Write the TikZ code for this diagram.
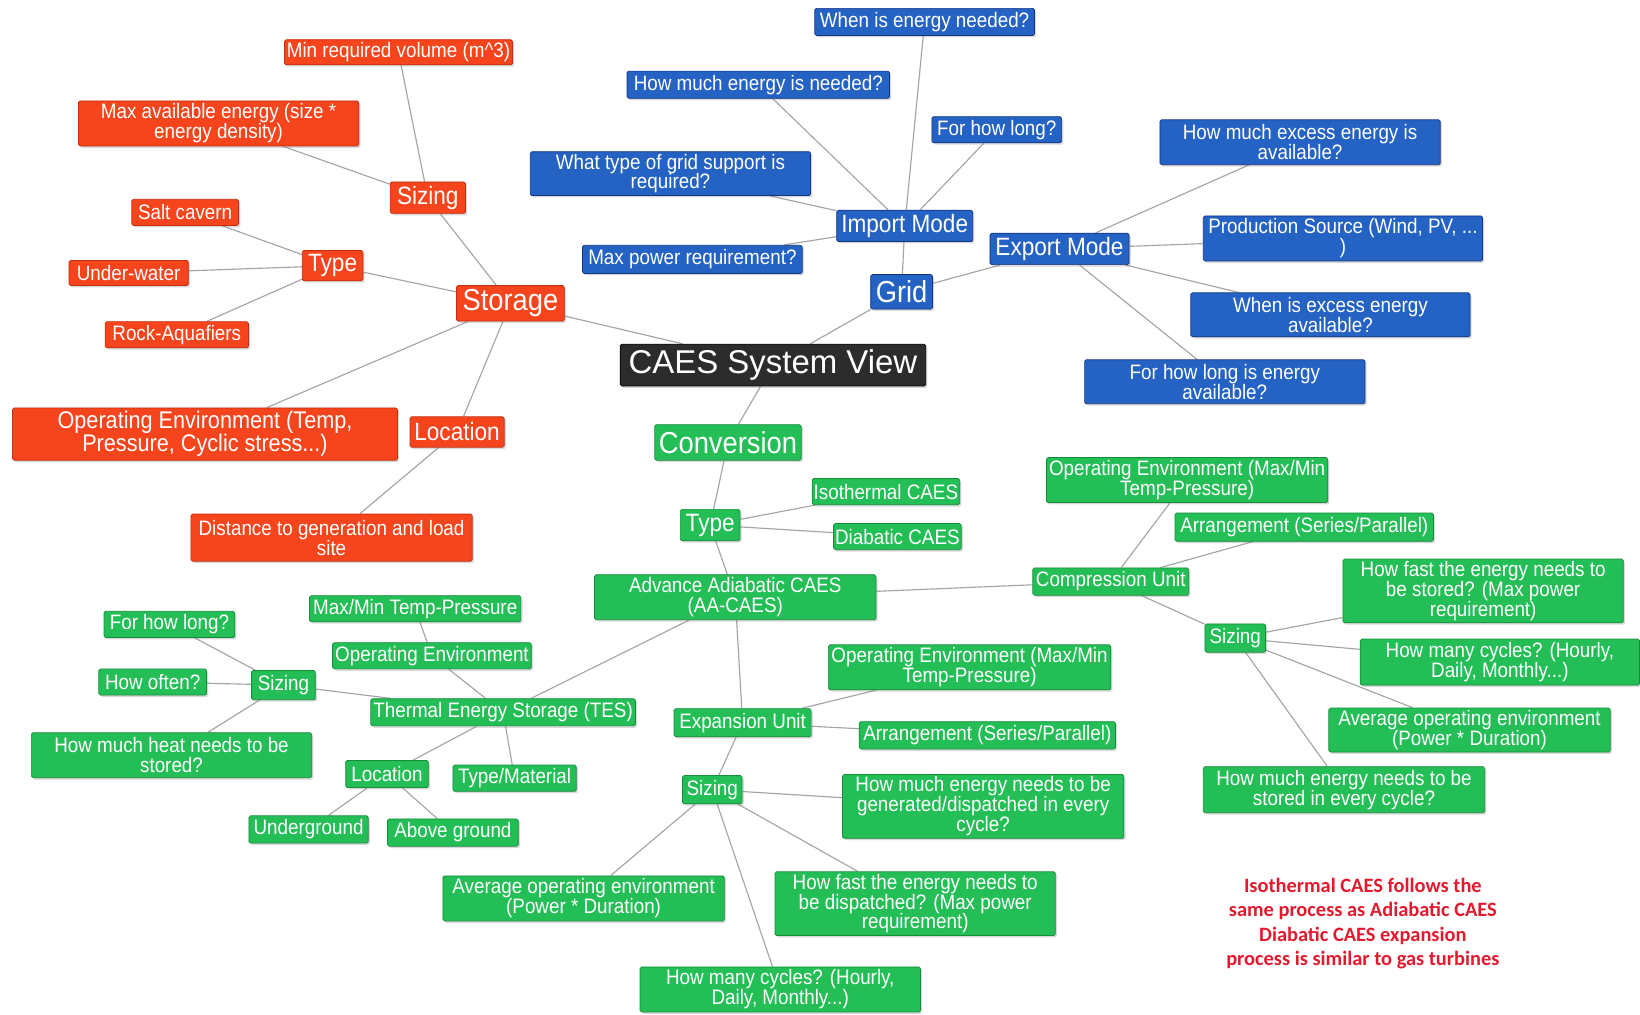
\documentclass[tikz,border=0pt]{standalone}
\usepackage{fontspec}
\setmainfont{Liberation Sans}[FakeStretch=0.9]
\newfontfamily\titlefont{Liberation Sans}
\newfontfamily\notefont{Carlito}
\usetikzlibrary{shadows,backgrounds}

\definecolor{redF}{RGB}{246,68,28}
\definecolor{redD}{RGB}{196,44,14}
\definecolor{bluF}{RGB}{36,98,196}
\definecolor{bluD}{RGB}{22,52,130}
\definecolor{grnF}{RGB}{36,190,86}
\definecolor{grnD}{RGB}{22,140,58}
\definecolor{darkF}{RGB}{44,44,44}
\definecolor{edgeC}{RGB}{165,165,165}
\definecolor{noteC}{RGB}{226,26,46}

\begin{document}
\begin{tikzpicture}[x=1pt,y=-1pt,
  card/.style={rectangle, rounded corners=1.5pt, line width=0.7pt, text=white,
    inner sep=1pt, align=center,
    drop shadow={shadow xshift=1.6pt, shadow yshift=-1.8pt, opacity=0.3, fill=black!50}},
  rn/.style={card, fill=redF, draw=redD},
  bn/.style={card, fill=bluF, draw=bluD},
  gn/.style={card, fill=grnF, draw=grnD},
  cn/.style={card, fill=darkF, draw=black},
  sz/.style 2 args={minimum width=#1, minimum height=#2},
  fsmall/.style={font=\fontsize{20}{19}\selectfont},
  fenv/.style={font=\fontsize{23}{22}\selectfont},
  fmed/.style={font=\fontsize{24}{24}\selectfont},
  fbig/.style={font=\fontsize{29}{29}\selectfont},
  ftitle/.style={font=\titlefont\fontsize{31.5}{32}\selectfont},
  link/.style={draw=edgeC, line width=1.1pt},
  every node/.append style={fsmall}
]
\useasboundingbox (0,0) rectangle (1568,970);

% ---- centre ----
\node[cn, ftitle, sz={292}{40}] (caes) at (739,349) {CAES System View};

% ---- Storage branch ----
\node[rn, fbig, sz={103}{34}] (storage) at (488,290) {Storage};
\node[rn, fmed, sz={72}{30}] (ssize) at (409,189) {Sizing};
\node[rn, sz={218}{24}] (minvol) at (381,50) {Min required volume (m\textasciicircum3)};
\node[rn, sz={268}{43}] (maxen) at (209,118) {Max available energy (size *\\energy density)};
\node[rn, fmed, sz={58}{29}] (stype) at (318,254) {Type};
\node[rn, sz={102}{25}] (salt) at (177,203) {Salt cavern};
\node[rn, sz={114}{24}] (under) at (123,261) {Under-water};
\node[rn, sz={137}{25}] (rock) at (169,320) {Rock-Aquafiers};
\node[rn, fenv, sz={368}{50}] (openv) at (196,415) {Operating Environment (Temp,\\Pressure, Cyclic stress...)};
\node[rn, fmed, sz={90}{29}] (sloc) at (437,413) {Location};
\node[rn, sz={269}{45}] (dist) at (317,514) {Distance to generation and load\\site};

% ---- Grid branch ----
\node[bn, fbig, sz={59}{33}] (grid) at (862,279) {Grid};
\node[bn, fmed, sz={130}{30}] (import) at (865,216) {Import Mode};
\node[bn, sz={210}{26}] (when) at (884,21) {When is energy needed?};
\node[bn, sz={251}{26}] (howmuch) at (725,81) {How much energy is needed?};
\node[bn, sz={124}{25}] (forlong) at (953,124) {For how long?};
\node[bn, sz={268}{42}] (gridsup) at (641,166) {What type of grid support is\\required?};
\node[bn, sz={210}{27}] (maxpow) at (662,248) {Max power requirement?};
\node[bn, fmed, sz={133}{30}] (export) at (1013,238) {Export Mode};
\node[bn, sz={268}{43}] (excess) at (1243,136) {How much excess energy is\\available?};
\node[bn, sz={267}{43}] (prod) at (1284,228) {Production Source (Wind, PV, ...\\)};
\node[bn, sz={267}{42}] (whenex) at (1272,301) {When is excess energy\\available?};
\node[bn, sz={268}{42}] (howlong) at (1171,365) {For how long is energy\\available?};

% ---- Conversion branch ----
\node[gn, fbig, sz={140}{34}] (conv) at (696,423) {Conversion};
\node[gn, fmed, sz={57}{30}] (ctype) at (679,502) {Type};
\node[gn, sz={141}{25}] (iso) at (847,470) {Isothermal CAES};
\node[gn, sz={122}{25}] (dia) at (858,513) {Diabatic CAES};
\node[gn, sz={269}{43}] (aa) at (703,571) {Advance Adiabatic CAES\\(AA-CAES)};

% compression unit
\node[gn, sz={149}{26}] (comp) at (1062,556) {Compression Unit};
\node[gn, sz={269}{43}] (copenv) at (1135,459) {Operating Environment (Max/Min\\Temp-Pressure)};
\node[gn, sz={247}{27}] (carr) at (1247,504) {Arrangement (Series/Parallel)};
\node[gn, sz={58}{27}] (csize) at (1181,610) {Sizing};
\node[gn, sz={268}{61}] (cfast) at (1418,565) {How fast the energy needs to\\be stored? (Max power\\requirement)};
\node[gn, sz={267}{44}] (ccyc) at (1434,633) {How many cycles? (Hourly,\\Daily, Monthly...)};
\node[gn, sz={269}{42}] (cavg) at (1405,698) {Average operating environment\\(Power * Duration)};
\node[gn, sz={269}{44}] (cstore) at (1285,755) {How much energy needs to be\\stored in every cycle?};

% expansion unit
\node[gn, sz={131}{27}] (exu) at (710,691) {Expansion Unit};
\node[gn, sz={270}{43}] (eopenv) at (927,638) {Operating Environment (Max/Min\\Temp-Pressure)};
\node[gn, sz={245}{26}] (earr) at (944,703) {Arrangement (Series/Parallel)};
\node[gn, sz={57}{27}] (esize) at (681,755) {Sizing};
\node[gn, sz={269}{61}] (egen) at (940,771) {How much energy needs to be\\generated/dispatched in every\\cycle?};
\node[gn, sz={268}{61}] (efast) at (875,864) {How fast the energy needs to\\be dispatched? (Max power\\requirement)};
\node[gn, sz={269}{43}] (eavg) at (558,859) {Average operating environment\\(Power * Duration)};
\node[gn, sz={268}{43}] (ecyc) at (746,946) {How many cycles? (Hourly,\\Daily, Monthly...)};

% thermal energy storage
\node[gn, sz={253}{26}] (tes) at (481,681) {Thermal Energy Storage (TES)};
\node[gn, sz={202}{25}] (tmaxmin) at (397,582) {Max/Min Temp-Pressure};
\node[gn, sz={190}{25}] (topenv) at (413,627) {Operating Environment};
\node[gn, sz={61}{28}] (tsize) at (271,655) {Sizing};
\node[gn, sz={125}{25}] (tlong) at (162,597) {For how long?};
\node[gn, sz={103}{25}] (toften) at (146,652) {How often?};
\node[gn, sz={268}{43}] (theat) at (164,722) {How much heat needs to be\\stored?};
\node[gn, sz={79}{26}] (tloc) at (370,740) {Location};
\node[gn, sz={118}{25}] (tmat) at (492,744) {Type/Material};
\node[gn, sz={114}{26}] (tunder) at (295,793) {Underground};
\node[gn, sz={125}{26}] (tabove) at (433,796) {Above ground};

% ---- note ----
\node[font=\notefont\bfseries\fontsize{19.5}{23}\selectfont, text=noteC, align=center]
  (note) at (1303,883) {Isothermal CAES follows the\\same process as Adiabatic CAES\\Diabatic CAES expansion\\process is similar to gas turbines};

% ---- white page and connectors, behind the cards ----
\begin{pgfonlayer}{background}
\fill[white] (0,0) rectangle (1568,970);
\foreach \a/\b in {caes/storage, caes/grid, caes/conv,
  storage/ssize, ssize/minvol, ssize/maxen,
  storage/stype, stype/salt, stype/under, stype/rock,
  storage/openv, storage/sloc, sloc/dist,
  grid/import, import/when, import/howmuch, import/forlong, import/gridsup, import/maxpow,
  grid/export, export/excess, export/prod, export/whenex, export/howlong,
  conv/ctype, ctype/iso, ctype/dia, ctype/aa,
  aa/comp, comp/copenv, comp/carr, comp/csize,
  csize/cfast, csize/ccyc, csize/cavg, csize/cstore,
  aa/exu, exu/eopenv, exu/earr, exu/esize,
  esize/egen, esize/efast, esize/eavg, esize/ecyc,
  aa/tes, tes/topenv, topenv/tmaxmin, tes/tsize,
  tsize/tlong, tsize/toften, tsize/theat,
  tes/tloc, tloc/tunder, tloc/tabove, tes/tmat}
  \draw[link] (\a) -- (\b);
\end{pgfonlayer}
\end{tikzpicture}
\end{document}
